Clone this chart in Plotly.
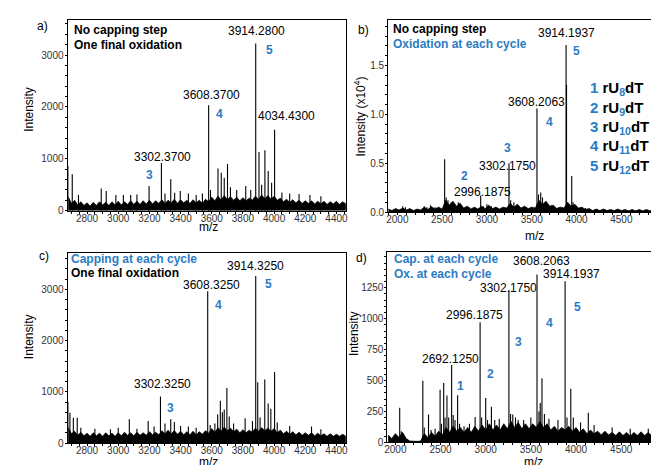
import plotly.graph_objects as go

W, H = 659, 465
BLUE = "#2b7bc4"
FONT = "Arial, Liberation Sans, sans-serif"

# ---------------- data ----------------
# Panel a: no capping, one final oxidation
a_peak_mz = [2677, 2705, 2745, 2891, 2923, 2985, 3033, 3080, 3120, 3198, 3277, 3300, 3337, 3362,
             3398, 3450, 3500, 3540, 3580, 3592, 3640, 3661, 3680, 3701, 3720, 3760, 3818, 3850,
             3882, 3903, 3920, 3941, 3962, 3984, 4003, 4050, 4100, 4160, 4230, 4300]
a_peak_int = [860, 700, 300, 425, 380, 300, 300, 300, 310, 475, 920, 330, 605, 345,
              380, 330, 300, 330, 2030, 400, 815, 730, 635, 900, 450, 400, 475, 400,
              3225, 1130, 500, 1165, 765, 540, 1560, 350, 330, 320, 300, 280]

# Panels a and c share the same m/z sampling for the noise band
base_ac_mz = [2680, 2700, 2720, 2740, 2760, 2780, 2800, 2820, 2840, 2860, 2880, 2900, 2920, 2940, 2960,
              2980, 3000, 3020, 3040, 3060, 3080, 3100, 3120, 3140, 3160, 3180, 3200, 3220, 3240, 3260,
              3280, 3300, 3320, 3340, 3360, 3380, 3400, 3420, 3440, 3460, 3480, 3500, 3520, 3540, 3560,
              3580, 3600, 3620, 3640, 3660, 3680, 3700, 3720, 3740, 3760, 3780, 3800, 3820, 3840, 3860,
              3880, 3900, 3920, 3940, 3960, 3980, 4000, 4020, 4040, 4060, 4080, 4100, 4120, 4140, 4160,
              4180, 4200, 4220, 4240, 4260, 4280, 4300, 4320, 4340, 4360, 4380, 4400, 4420, 4440, 4460]
base_a_int = [260, 140, 200, 110, 170, 100, 150, 90, 160, 100, 170, 110, 160, 100, 170,
              110, 180, 110, 170, 120, 190, 120, 180, 120, 190, 130, 200, 130, 190, 140,
              210, 140, 200, 150, 220, 140, 210, 150, 200, 140, 210, 150, 200, 140, 220,
              170, 260, 190, 280, 200, 290, 210, 270, 200, 260, 190, 250, 190, 240, 200,
              280, 220, 300, 230, 290, 220, 280, 200, 240, 170, 220, 160, 210, 150, 200,
              140, 190, 140, 190, 130, 180, 130, 180, 120, 170, 130, 180, 120, 170, 130]

# Panel b: no capping, oxidation at each cycle (intensity x10^4)
b_peak_mz = [2060, 2090, 2300, 2330, 2370, 2420, 2528, 2545, 2565, 2600, 2640, 2680, 2700, 2800,
             2930, 2960, 3000, 3050, 3100, 3246, 3265, 3300, 3350, 3400, 3558, 3575, 3600, 3620,
             3650, 3700, 3800, 3883, 3888, 3946, 3960, 4000, 4100]
b_peak_int = [0.06, 0.05, 0.06, 0.05, 0.07, 0.05, 0.54, 0.15, 0.12, 0.10, 0.08, 0.10, 0.07, 0.05,
              0.17, 0.06, 0.08, 0.06, 0.05, 0.50, 0.12, 0.10, 0.06, 0.05, 1.06, 0.18, 0.20, 0.15,
              0.10, 0.06, 0.05, 1.71, 1.30, 0.37, 0.10, 0.06, 0.04]
base_b_mz = [1900, 1940, 1980, 2020, 2060, 2100, 2140, 2180, 2220, 2260, 2300, 2340, 2380, 2420, 2460,
             2500, 2540, 2580, 2620, 2660, 2700, 2740, 2780, 2820, 2860, 2900, 2940, 2980, 3020, 3060,
             3100, 3140, 3180, 3220, 3260, 3300, 3340, 3380, 3420, 3460, 3500, 3540, 3580, 3620, 3660,
             3700, 3740, 3780, 3820, 3860, 3900, 3940, 3980, 4020, 4060, 4100, 4140, 4180, 4220, 4260,
             4300, 4340, 4380, 4420, 4460, 4500, 4540, 4580, 4620, 4660, 4700, 4740, 4780, 4820, 4860,
             4900, 4940, 4980]
base_b_int = [0.03, 0.015, 0.035, 0.02, 0.04, 0.02, 0.035, 0.015, 0.03, 0.02, 0.05, 0.025, 0.055, 0.03, 0.05,
              0.03, 0.12, 0.07, 0.11, 0.06, 0.09, 0.04, 0.06, 0.03, 0.05, 0.03, 0.06, 0.035, 0.07, 0.035,
              0.05, 0.03, 0.05, 0.04, 0.09, 0.05, 0.08, 0.04, 0.06, 0.035, 0.05, 0.04, 0.12, 0.08, 0.11,
              0.06, 0.07, 0.035, 0.05, 0.04, 0.10, 0.06, 0.08, 0.04, 0.05, 0.025, 0.035, 0.015, 0.03, 0.015,
              0.03, 0.015, 0.025, 0.015, 0.03, 0.015, 0.025, 0.012, 0.025, 0.012, 0.025, 0.012, 0.025, 0.012, 0.025,
              0.012, 0.025, 0.012]

# Panel c: capping at each cycle, one final oxidation
c_peak_mz = [2677, 2690, 2712, 2737, 2760, 2850, 2950, 3000, 3071, 3120, 3192, 3230, 3271, 3300,
             3337, 3360, 3400, 3450, 3500, 3574, 3590, 3620, 3638, 3655, 3668, 3680, 3697, 3712,
             3740, 3814, 3861, 3882, 3895, 3910, 3940, 3962, 3979, 4003, 4020, 4100, 4240, 4300]
c_peak_int = [800, 590, 495, 495, 300, 280, 270, 300, 462, 280, 432, 320, 910, 380,
              465, 410, 330, 320, 300, 2960, 350, 380, 560, 825, 600, 655, 1073, 520,
              380, 485, 430, 3260, 1185, 500, 1240, 770, 670, 1385, 400, 330, 320, 270]
base_c_int = [300, 180, 230, 150, 210, 140, 190, 130, 200, 140, 190, 130, 200, 140, 190,
              130, 200, 140, 210, 150, 200, 140, 210, 150, 200, 150, 220, 160, 210, 160,
              240, 180, 250, 180, 240, 170, 230, 160, 220, 160, 230, 160, 220, 170, 240,
              190, 280, 210, 300, 230, 310, 240, 290, 220, 270, 200, 260, 200, 250, 210,
              290, 230, 300, 240, 290, 230, 280, 200, 250, 180, 230, 170, 220, 160, 210,
              150, 200, 150, 200, 140, 190, 140, 180, 130, 180, 130, 170, 130, 170, 130]

# Panel d: capping at each cycle, oxidation at each cycle
d_peak_mz = [2048, 2065, 2304, 2320, 2367, 2395, 2440, 2495, 2510, 2535, 2550, 2571, 2590, 2623,
             2640, 2660, 2689, 2710, 2760, 2820, 2883, 2938, 2955, 3000, 3020, 3063, 3100, 3150,
             3257, 3275, 3300, 3330, 3360, 3420, 3500, 3568, 3590, 3604, 3623, 3650, 3700, 3800,
             3879, 3900, 3942, 3970, 4050, 4136, 4200, 4400, 4600, 4800, 4900]
d_peak_int = [279, 90, 497, 120, 226, 100, 110, 425, 150, 479, 200, 378, 200, 625,
              220, 180, 381, 150, 130, 150, 205, 971, 200, 359, 180, 287, 180, 190,
              1229, 230, 226, 200, 180, 180, 200, 1357, 250, 319, 519, 230, 190, 180,
              1303, 200, 433, 200, 160, 239, 140, 120, 110, 110, 100]
base_d_mz = [1920, 1960, 2000, 2040, 2080, 2120, 2160, 2200, 2240, 2280, 2320, 2360, 2400, 2440, 2480,
             2520, 2560, 2600, 2640, 2680, 2720, 2760, 2800, 2840, 2880, 2920, 2960, 3000, 3040, 3080,
             3120, 3160, 3200, 3240, 3280, 3320, 3360, 3400, 3440, 3480, 3520, 3560, 3600, 3640, 3680,
             3720, 3760, 3800, 3840, 3880, 3920, 3960, 4000, 4040, 4080, 4120, 4160, 4200, 4240, 4280,
             4320, 4360, 4400, 4440, 4480, 4520, 4560, 4600, 4640, 4680, 4720, 4760, 4800, 4840, 4880,
             4920, 4960, 5000]
base_d_int = [60, 30, 70, 40, 80, 30, 10, 6, 8, 10, 70, 40, 80, 50, 90,
              60, 120, 80, 130, 90, 120, 80, 120, 80, 130, 90, 140, 100, 150, 100,
              140, 100, 150, 110, 170, 120, 160, 110, 150, 110, 150, 120, 170, 120, 150,
              100, 130, 90, 120, 100, 130, 90, 120, 80, 110, 70, 100, 70, 90, 60,
              90, 60, 80, 55, 85, 55, 80, 50, 80, 55, 85, 55, 80, 50, 80,
              50, 75, 60]

# tick labels
ac_xticks = [2800, 3000, 3200, 3400, 3600, 3800, 4000, 4200, 4400]
bd_xticks = [2000, 2500, 3000, 3500, 4000, 4500]
ac_yticks = [0, 1000, 2000, 3000]
b_yticks = [0.0, 0.5, 1.0, 1.5]
d_yticks = [0, 250, 500, 750, 1000, 1250]

legend_num = ["1", "2", "3", "4", "5"]
legend_sub = ["8", "9", "10", "11", "12"]

# ---------------- figure ----------------
def sticks(mz, inten):
    xs, ys = [], []
    for m, v in zip(mz, inten):
        xs += [m, m, None]
        ys += [0, v, None]
    return xs, ys

fig = go.Figure()
panels = [
    (a_peak_mz, a_peak_int, base_ac_mz, base_a_int),
    (b_peak_mz, b_peak_int, base_b_mz, base_b_int),
    (c_peak_mz, c_peak_int, base_ac_mz, base_c_int),
    (d_peak_mz, d_peak_int, base_d_mz, base_d_int),
]
for i, (pm, pi, bm, bi) in enumerate(panels, start=1):
    xa = "x" if i == 1 else f"x{i}"
    ya = "y" if i == 1 else f"y{i}"
    fig.add_trace(go.Scatter(x=bm, y=bi, mode="lines", fill="tozeroy", fillcolor="black",
                             line=dict(color="black", width=0.8), xaxis=xa, yaxis=ya,
                             hoverinfo="skip", showlegend=False))
    xs, ys = sticks(pm, pi)
    fig.add_trace(go.Scatter(x=xs, y=ys, mode="lines", line=dict(color="black", width=1.1),
                             xaxis=xa, yaxis=ya, hoverinfo="skip", showlegend=False))

def ax(domain, rng, tickvals, minor_dtick, anchor, mirror=True, fmt=None, standoff=0):
    d = dict(domain=domain, range=rng, anchor=anchor, showline=True, linecolor="black",
             linewidth=1, mirror=mirror, ticks="outside", ticklen=2, tickcolor="black",
             tickvals=tickvals, tickfont=dict(size=10, color="#333", family=FONT),
             showgrid=False, zeroline=False, ticklabelstandoff=standoff,
             minor=dict(ticks="outside", ticklen=2, tickcolor="black", tickmode="linear",
                        tick0=0, dtick=minor_dtick))
    if fmt:
        d["tickformat"] = fmt
    return d

def py(y):
    return 1 - y / H

xl, xr = 57 / W, 338 / W
xl2 = 380 / W
XS, YS = -4, -1
fig.update_layout(
    width=W, height=H, margin=dict(l=0, r=0, t=0, b=0), autosize=False,
    paper_bgcolor="white", plot_bgcolor="white", showlegend=False,
    xaxis=ax([xl, xr], [2675, 4464], ac_xticks, 50, "y", standoff=XS),
    yaxis=ax([py(205.3), py(12.3)], [0, 3673], ac_yticks, 200, "x", standoff=YS),
    xaxis2=ax([xl2, 1.0], [1897, 4987], bd_xticks, 100, "y2", standoff=XS),
    yaxis2=ax([py(206.7), py(12.3)], [0, 1.964], b_yticks, 0.1, "x2", mirror=False, fmt=".1f", standoff=YS),
    xaxis3=ax([xl, xr], [2675, 4464], ac_xticks, 50, "y3", standoff=XS),
    yaxis3=ax([py(440.7), py(248.3)], [0, 3707], ac_yticks, 200, "x3", standoff=YS),
    xaxis4=ax([379.3 / W, 1.0], [1912, 4985], bd_xticks, 100, "y4", standoff=XS),
    yaxis4=ax([py(440), py(246.7)], [0, 1543], d_yticks, 50, "x4", mirror=False, standoff=YS),
)

anns = []
def ann(text, x, y, size=12, color="black", bold=False, anchor="center", angle=0):
    anns.append(dict(text=f"<b>{text}</b>" if bold else text, x=x / W, y=py(y),
                     xref="paper", yref="paper", xanchor=anchor, yanchor="middle",
                     showarrow=False, textangle=angle,
                     font=dict(size=size, color=color, family=FONT)))

# panel a
ann("a)", 32, 18)
ann("No capping step", 61, 22, bold=True, anchor="left")
ann("One final oxidation", 61, 37, bold=True, anchor="left")
ann("3914.2800", 247.7, 23.3)
ann("5", 260, 42.7, color=BLUE, bold=True)
ann("3608.3700", 201.7, 88.3)
ann("4", 210, 107.3, color=BLUE, bold=True)
ann("4034.4300", 278, 109.3)
ann("3302.3700", 152.3, 150.7)
ann("3", 140, 169.3, color=BLUE, bold=True)
ann("Intensity", 18.3, 103, angle=-90)
ann("m/z", 199, 222)

# panel b
ann("b)", 355, 22)
ann("No capping step", 382.5, 21.7, bold=True, anchor="left")
ann("Oxidation at each cycle", 382.5, 36.7, bold=True, anchor="left", color=BLUE)
ann("3914.1937", 560, 25)
ann("5", 570, 43.3, color=BLUE, bold=True)
ann("3608.2063", 530, 95)
ann("4", 542.7, 115, color=BLUE, bold=True)
ann("3", 500.7, 141.7, color=BLUE, bold=True)
ann("3302.1750", 500.7, 160)
ann("2", 456.7, 170.7, color=BLUE, bold=True)
ann("2996.1875", 475, 186.7)
ann("Intensity (x10<sup>4</sup>)", 351.7, 110, angle=-90)
ann("m/z", 527, 231)
for k, (n, s) in enumerate(zip(legend_num, legend_sub)):
    txt = (f'<span style="color:{BLUE}">{n}</span> rU<sub><span style="color:{BLUE}">{s}</span></sub>dT')
    ann(txt, 581, 82 + 19.6 * k, size=15, bold=True, anchor="left")

# panel c
ann("c)", 33.3, 251.7)
ann("Capping at each cycle", 58.5, 254, bold=True, anchor="left", color=BLUE)
ann("One final oxidation", 58.5, 268.3, bold=True, anchor="left")
ann("3914.3250", 246.7, 261.7)
ann("5", 259.3, 280, color=BLUE, bold=True)
ann("3608.3250", 201.7, 280.7)
ann("4", 209, 300.7, color=BLUE, bold=True)
ann("3302.3250", 152.3, 380.7)
ann("3", 161, 405.7, color=BLUE, bold=True)
ann("Intensity", 18.3, 333.3, angle=-90)
ann("m/z", 199, 460)

# panel d
ann("d)", 352.7, 253.3)
ann("Cap. at each cycle", 384, 254, bold=True, anchor="left", color=BLUE)
ann("Ox. at each cycle", 384, 269.3, bold=True, anchor="left", color=BLUE)
ann("3608.2063", 535, 256)
ann("3914.1937", 564.3, 269.3)
ann("3302.1750", 501.7, 283.3)
ann("2996.1875", 467.3, 310.7)
ann("2692.1250", 442.7, 356)
ann("5", 570.7, 302.7, color=BLUE, bold=True)
ann("4", 542.7, 319.3, color=BLUE, bold=True)
ann("3", 511.7, 338.3, color=BLUE, bold=True)
ann("2", 483.3, 370.7, color=BLUE, bold=True)
ann("1", 453.3, 383.3, color=BLUE, bold=True)
ann("Intensity", 345, 330, angle=-90)
ann("m/z", 526.7, 460)

fig.update_layout(annotations=anns)
fig.write_html("out.html")
